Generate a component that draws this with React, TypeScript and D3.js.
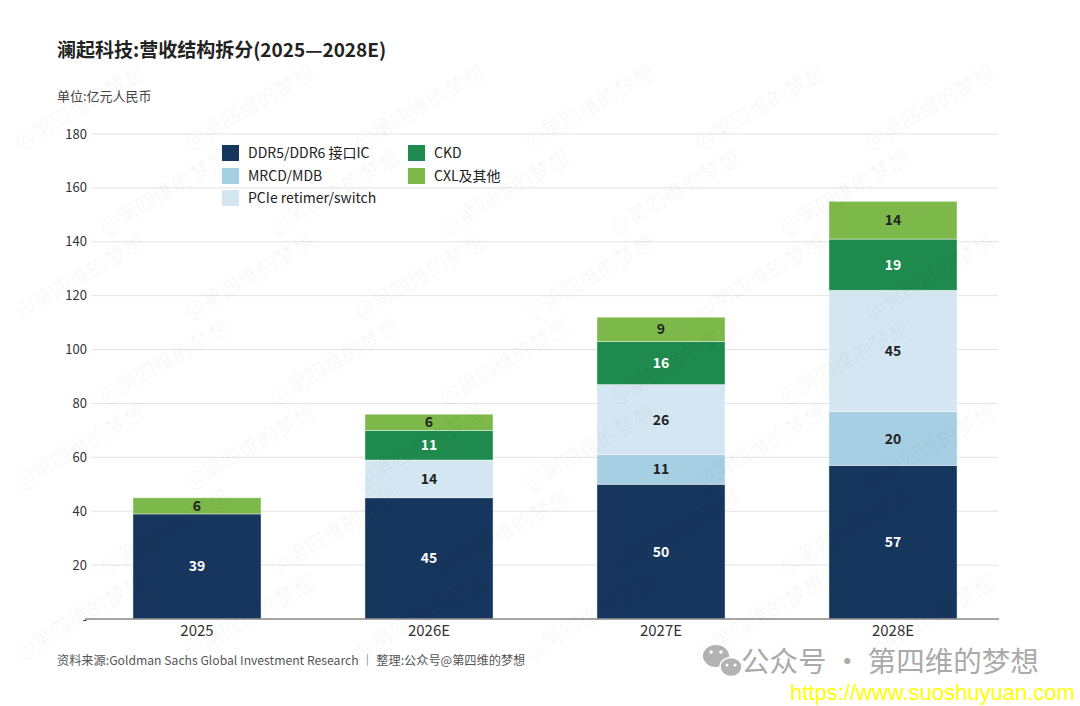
import React from "react";
import * as d3 from "d3";

const categories = ["2025", "2026E", "2027E", "2028E"];
const seriesNames = ["DDR5/DDR6 接口IC", "MRCD/MDB", "PCIe retimer/switch", "CKD", "CXL及其他"];
const ddr5 = [39, 45, 50, 57];
const mrcd = [0, 0, 11, 20];
const pcie = [0, 14, 26, 45];
const ckd = [0, 11, 16, 19];
const cxl = [6, 6, 9, 14];
const colors = ["#17365d", "#a7cfe3", "#d5e6f3", "#1f8a4e", "#7cb94a"];
const labelColors = ["#ffffff", "#222222", "#222222", "#ffffff", "#222222"];
const yTicks = [0, 20, 40, 60, 80, 100, 120, 140, 160, 180];

const W = 1080;
const H = 706;
const FONT = "'Noto Sans CJK SC', 'Noto Sans', sans-serif";

export default function App() {
  const series = [ddr5, mrcd, pcie, ckd, cxl];
  const x = d3.scaleBand<string>().domain(categories).range([81, 1009]).paddingInner(0.448).paddingOuter(0.224);
  const y = d3.scaleLinear().domain([0, 180]).range([619, 134]);

  const rows = categories.map((c, i) => {
    const r: any = { cat: c };
    series.forEach((s, k) => (r["s" + k] = s[i]));
    return r;
  });
  const stack = d3.stack<any>().keys(series.map((_, k) => "s" + k))(rows);

  const legendItems = [
    { k: 0, x: 222, y: 153 },
    { k: 1, x: 222, y: 176 },
    { k: 2, x: 222, y: 198 },
    { k: 3, x: 408, y: 153 },
    { k: 4, x: 408, y: 176 },
  ];

  const wm: { x: number; y: number }[] = [];
  for (let r = 0; r < 7; r++) {
    for (let c = 0; c < 6; c++) {
      const px = 20 + c * 170 + (r % 2) * 85;
      const py = 150 + r * 85;
      if (px + 135 < W && py < H - 5) wm.push({ x: px, y: py });
    }
  }

  return (
    <svg width={W} height={H} style={{ display: "block", position: "absolute", left: 0, top: 0 }} fontFamily={FONT}>
      <rect width={W} height={H} fill="#ffffff" />
      <text x={57} y={57} fontSize={19} fontWeight={700} fill="#222">澜起科技:营收结构拆分(2025—2028E)</text>
      <text x={57} y={101} fontSize={13} fill="#444">单位:亿元人民币</text>

      {yTicks.map((t) => (
        <g key={t}>
          {t > 0 && <line x1={92} x2={998} y1={y(t)} y2={y(t)} stroke="#e3e3e3" strokeWidth={1} />}
          <text x={87} y={y(t)} dy="0.35em" textAnchor="end" fontSize={13} fill="#333">
            {t === 0 ? "-" : t}
          </text>
        </g>
      ))}

      {stack.map((layer, k) => (
        <g key={k}>
          {layer.map((d, i) => {
            const v = d[1] - d[0];
            if (v <= 0) return null;
            const bx = x(categories[i]) as number;
            const bw = x.bandwidth();
            const y0 = y(d[1]);
            const h = y(d[0]) - y(d[1]);
            return (
              <g key={i}>
                <rect x={bx} y={y0} width={bw} height={h} fill={colors[k]} stroke="#ffffff" strokeOpacity={0.5} strokeWidth={0.8} />
                <text x={bx + bw / 2} y={y0 + h / 2} dy="0.36em" textAnchor="middle" fontSize={14} fontWeight={700} fill={labelColors[k]}>
                  {v}
                </text>
              </g>
            );
          })}
        </g>
      ))}

      <line x1={85} x2={999} y1={619} y2={619} stroke="#888" strokeWidth={1.5} />
      {categories.map((c) => (
        <text key={c} x={(x(c) as number) + x.bandwidth() / 2} y={636} textAnchor="middle" fontSize={15} fill="#333">
          {c}
        </text>
      ))}

      {legendItems.map((l) => (
        <g key={l.k}>
          <rect x={l.x} y={l.y - 8} width={17} height={16} fill={colors[l.k]} />
          <text x={l.x + 26} y={l.y} dy="0.35em" fontSize={14} fill="#222">{seriesNames[l.k]}</text>
        </g>
      ))}

      <text x={57} y={665} fontSize={12.2} fill="#555">资料来源:Goldman Sachs Global Investment Research ｜ 整理:公众号@第四维的梦想</text>

      <g fill="#b3b3b3">
        <ellipse cx={716} cy={656} rx={13} ry={11} />
        <ellipse cx={731} cy={667} rx={11} ry={9.5} stroke="#fff" strokeWidth={1.5} />
        <circle cx={711} cy={652} r={1.8} fill="#fff" />
        <circle cx={721} cy={652} r={1.8} fill="#fff" />
        <circle cx={727} cy={665} r={1.5} fill="#fff" />
        <circle cx={735} cy={665} r={1.5} fill="#fff" />
      </g>
      <text x={741} y={672} fontSize={28.5} fill="#aaaaaa">公众号 · 第四维的梦想</text>
      <text x={790} y={700} fontSize={22} fill="#ffff00" fontFamily="'Liberation Sans', Arial, sans-serif">https://www.suoshuyuan.com</text>

      <g fill="#000" fillOpacity={0.04} fontSize={21}>
        {wm.map((p, i) => (
          <text key={i} x={p.x} y={p.y} transform={`rotate(-30 ${p.x} ${p.y})`}>@第四维的梦想</text>
        ))}
      </g>
    </svg>
  );
}
